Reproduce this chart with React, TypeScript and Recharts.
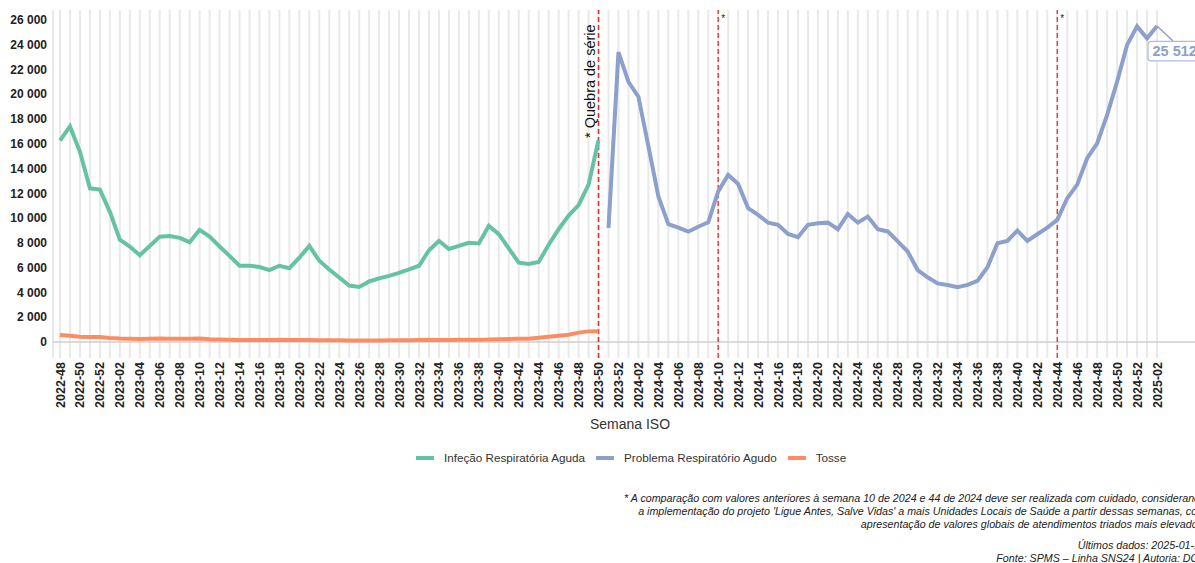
import { LineChart, Line, XAxis, YAxis, CartesianGrid, ReferenceLine } from 'recharts'

// ISO weeks shown on the x axis
const weeks = [
  '2022-48', '2022-49', '2022-50', '2022-51', '2022-52',
  '2023-01', '2023-02', '2023-03', '2023-04', '2023-05', '2023-06', '2023-07', '2023-08', '2023-09', '2023-10',
  '2023-11', '2023-12', '2023-13', '2023-14', '2023-15', '2023-16', '2023-17', '2023-18', '2023-19', '2023-20',
  '2023-21', '2023-22', '2023-23', '2023-24', '2023-25', '2023-26', '2023-27', '2023-28', '2023-29', '2023-30',
  '2023-31', '2023-32', '2023-33', '2023-34', '2023-35', '2023-36', '2023-37', '2023-38', '2023-39', '2023-40',
  '2023-41', '2023-42', '2023-43', '2023-44', '2023-45', '2023-46', '2023-47', '2023-48', '2023-49', '2023-50',
  '2023-51', '2023-52',
  '2024-01', '2024-02', '2024-03', '2024-04', '2024-05', '2024-06', '2024-07', '2024-08', '2024-09', '2024-10',
  '2024-11', '2024-12', '2024-13', '2024-14', '2024-15', '2024-16', '2024-17', '2024-18', '2024-19', '2024-20',
  '2024-21', '2024-22', '2024-23', '2024-24', '2024-25', '2024-26', '2024-27', '2024-28', '2024-29', '2024-30',
  '2024-31', '2024-32', '2024-33', '2024-34', '2024-35', '2024-36', '2024-37', '2024-38', '2024-39', '2024-40',
  '2024-41', '2024-42', '2024-43', '2024-44', '2024-45', '2024-46', '2024-47', '2024-48', '2024-49', '2024-50',
  '2024-51', '2024-52',
  '2025-01', '2025-02',
]

// Infeção Respiratória Aguda: 2022-48 .. 2023-50
const iraValues = [
  16250, 17400, 15350, 12400, 12300, 10500, 8250, 7700, 7000, 7750,
  8500, 8550, 8400, 8050, 9050, 8500, 7700, 6950, 6150, 6150,
  6050, 5800, 6150, 5950, 6800, 7750, 6550, 5850, 5200, 4550,
  4430, 4880, 5130, 5330, 5570, 5850, 6150, 7400, 8150, 7500,
  7750, 8000, 7950, 9380, 8700, 7550, 6400, 6300, 6450, 7850,
  9100, 10200, 11050, 12700, 16300,
]

// Tosse: 2022-48 .. 2023-50
const tosseValues = [
  560, 500, 420, 400, 400, 320, 270, 250, 230, 250,
  280, 260, 250, 260, 270, 220, 200, 180, 160, 150,
  150, 150, 170, 150, 150, 150, 140, 130, 130, 120,
  120, 120, 120, 130, 130, 140, 150, 170, 150, 160,
  170, 180, 180, 190, 220, 230, 250, 260, 330, 420,
  500, 580, 750, 850, 860,
]

// Problema Respiratório Agudo: 2023-51 .. 2025-02
const praValues = [
  9200, 23400, 21000, 19800, 15800, 11750, 9500, 9230, 8900, 9300,
  9650, 12150, 13480, 12750, 10800, 10250, 9630, 9450, 8720, 8450,
  9450, 9580, 9630, 9100, 10330, 9630, 10120, 9100, 8920, 8120,
  7300, 5800, 5220, 4720, 4600, 4420, 4600, 4930, 6030, 7970,
  8150, 8990, 8150, 8690, 9230, 9850, 11600, 12700, 14830, 16040,
  18330, 21020, 23980, 25480, 24520, 25512,
]

const yTicks = [0, 2000, 4000, 6000, 8000, 10000, 12000, 14000, 16000, 18000, 20000, 22000, 24000, 26000]
const breakWeeks = ['2024-10', '2024-44']
const seriesBreakWeek = '2023-50'

const series = [
  { key: 'ira', name: 'Infeção Respiratória Aguda', color: '#66c2a5' },
  { key: 'pra', name: 'Problema Respiratório Agudo', color: '#8da0cb' },
  { key: 'tosse', name: 'Tosse', color: '#fc8d62' },
]

const praStart = weeks.length - praValues.length
const data = weeks.map((week, i) => ({
  week,
  ira: i < iraValues.length ? iraValues[i] : null,
  tosse: i < tosseValues.length ? tosseValues[i] : null,
  pra: i >= praStart ? praValues[i - praStart] : null,
}))

const FONT = '"Liberation Sans", Arial, sans-serif'
const fmt = (v: number) => String(v).replace(/\B(?=(\d{3})+(?!\d))/g, ' ')

function WeekTick(props: any) {
  const { x, y, payload, index } = props
  if (index % 2 !== 0) return <g />
  return (
    <text
      x={x}
      y={y}
      transform={`rotate(-90, ${x}, ${y})`}
      textAnchor="end"
      dy="0.36em"
      fontFamily={FONT}
      fontSize={12.5}
      fontWeight="bold"
      fill="#222"
    >
      {payload.value}
    </text>
  )
}

function BreakLabel(props: any) {
  const vb = props.viewBox
  const x = vb.x - 4
  const y = vb.y + 128
  return (
    <text x={x} y={y} transform={`rotate(-90, ${x}, ${y})`} fontFamily={FONT} fontSize={14.5} fill="#111">
      * Quebra de série
    </text>
  )
}

function StarLabel(props: any) {
  const vb = props.viewBox
  return (
    <text x={vb.x + 5} y={vb.y + 12} textAnchor="middle" fontFamily={FONT} fontSize={10} fill="#222">
      *
    </text>
  )
}

function LastValueLabel(props: any) {
  const { x, y, index, value } = props
  if (index !== weeks.length - 1 || value == null) return <g />
  return (
    <g>
      <line x1={x} y1={y} x2={x + 16} y2={y + 15} stroke="#8da0cb" strokeWidth={1.5} />
      <rect x={x - 9} y={y + 15.5} width={58} height={19.5} rx={3} fill="#fff" stroke="#aebbdc" strokeWidth={1.2} />
      <text x={x - 4.5} y={y + 30.5} fontFamily={FONT} fontSize={14.5} fontWeight="bold" fill="#8da0cb">
        {fmt(value)}
      </text>
    </g>
  )
}

const footStyle: React.CSSProperties = {
  position: 'absolute',
  left: 0,
  width: 1206,
  textAlign: 'right',
  fontFamily: FONT,
  fontStyle: 'italic',
  fontSize: 10.7,
  lineHeight: '13px',
  color: '#222',
  whiteSpace: 'nowrap',
}

export default function App() {
  return (
    <div style={{ position: 'relative', width: 1195, height: 563, overflow: 'hidden', background: '#fff' }}>
      <style>{'body{margin:0}'}</style>
      <LineChart width={1230} height={440} data={data} margin={{ top: 10, right: 23, bottom: 0, left: 0 }}>
        <CartesianGrid horizontal={false} stroke="#e9e9e9" strokeWidth={2} />
        <XAxis
          dataKey="week"
          interval={0}
          tick={<WeekTick />}
          tickLine={false}
          axisLine={false}
          tickSize={0}
          tickMargin={4}
          height={82}
          padding={{ left: 7, right: 50 }}
          label={{ value: 'Semana ISO', position: 'insideBottom', offset: 11, fill: '#333', fontSize: 14, fontFamily: FONT }}
        />
        <YAxis
          domain={[-1300, 26800]}
          ticks={yTicks}
          tickFormatter={fmt}
          tick={{ fill: '#222', fontSize: 12, fontWeight: 'bold', fontFamily: FONT }}
          tickLine={false}
          axisLine={false}
          tickSize={0}
          tickMargin={6}
          width={53}
        />
        <ReferenceLine y={0} stroke="#cfcfcf" strokeWidth={1.5} />
        <ReferenceLine x={seriesBreakWeek} stroke="#ee2b2b" strokeWidth={1.5} strokeDasharray="5 3" label={<BreakLabel />} />
        {breakWeeks.map(w => (
          <ReferenceLine key={w} x={w} stroke="#ee2b2b" strokeWidth={1.3} strokeDasharray="5 3" label={<StarLabel />} />
        ))}
        <Line dataKey="tosse" stroke="#fc8d62" strokeWidth={4} dot={false} isAnimationActive={false} />
        <Line dataKey="ira" stroke="#66c2a5" strokeWidth={4} dot={false} isAnimationActive={false} />
        <Line dataKey="pra" stroke="#8da0cb" strokeWidth={4} dot={false} isAnimationActive={false} label={LastValueLabel} />
      </LineChart>

      <div
        style={{
          position: 'absolute',
          top: 451,
          left: 416,
          display: 'flex',
          alignItems: 'center',
          fontFamily: FONT,
          fontSize: 11.7,
          color: '#333',
          whiteSpace: 'nowrap',
        }}
      >
        {series.map(s => (
          <div key={s.key} style={{ display: 'flex', alignItems: 'center', marginRight: 11 }}>
            <span style={{ display: 'inline-block', width: 18, height: 4, background: s.color, marginRight: 10 }} />
            <span>{s.name}</span>
          </div>
        ))}
      </div>

      <div style={{ ...footStyle, top: 492 }}>
        <div>* A comparação com valores anteriores à semana 10 de 2024 e 44 de 2024 deve ser realizada com cuidado, considerando</div>
        <div>a implementação do projeto 'Ligue Antes, Salve Vidas' a mais Unidades Locais de Saúde a partir dessas semanas, com</div>
        <div>apresentação de valores globais de atendimentos triados mais elevados.</div>
      </div>
      <div style={{ ...footStyle, top: 539 }}>
        <div>Últimos dados: 2025-01-12</div>
        <div>Fonte: SPMS – Linha SNS24 | Autoria: DGS</div>
      </div>
    </div>
  )
}
